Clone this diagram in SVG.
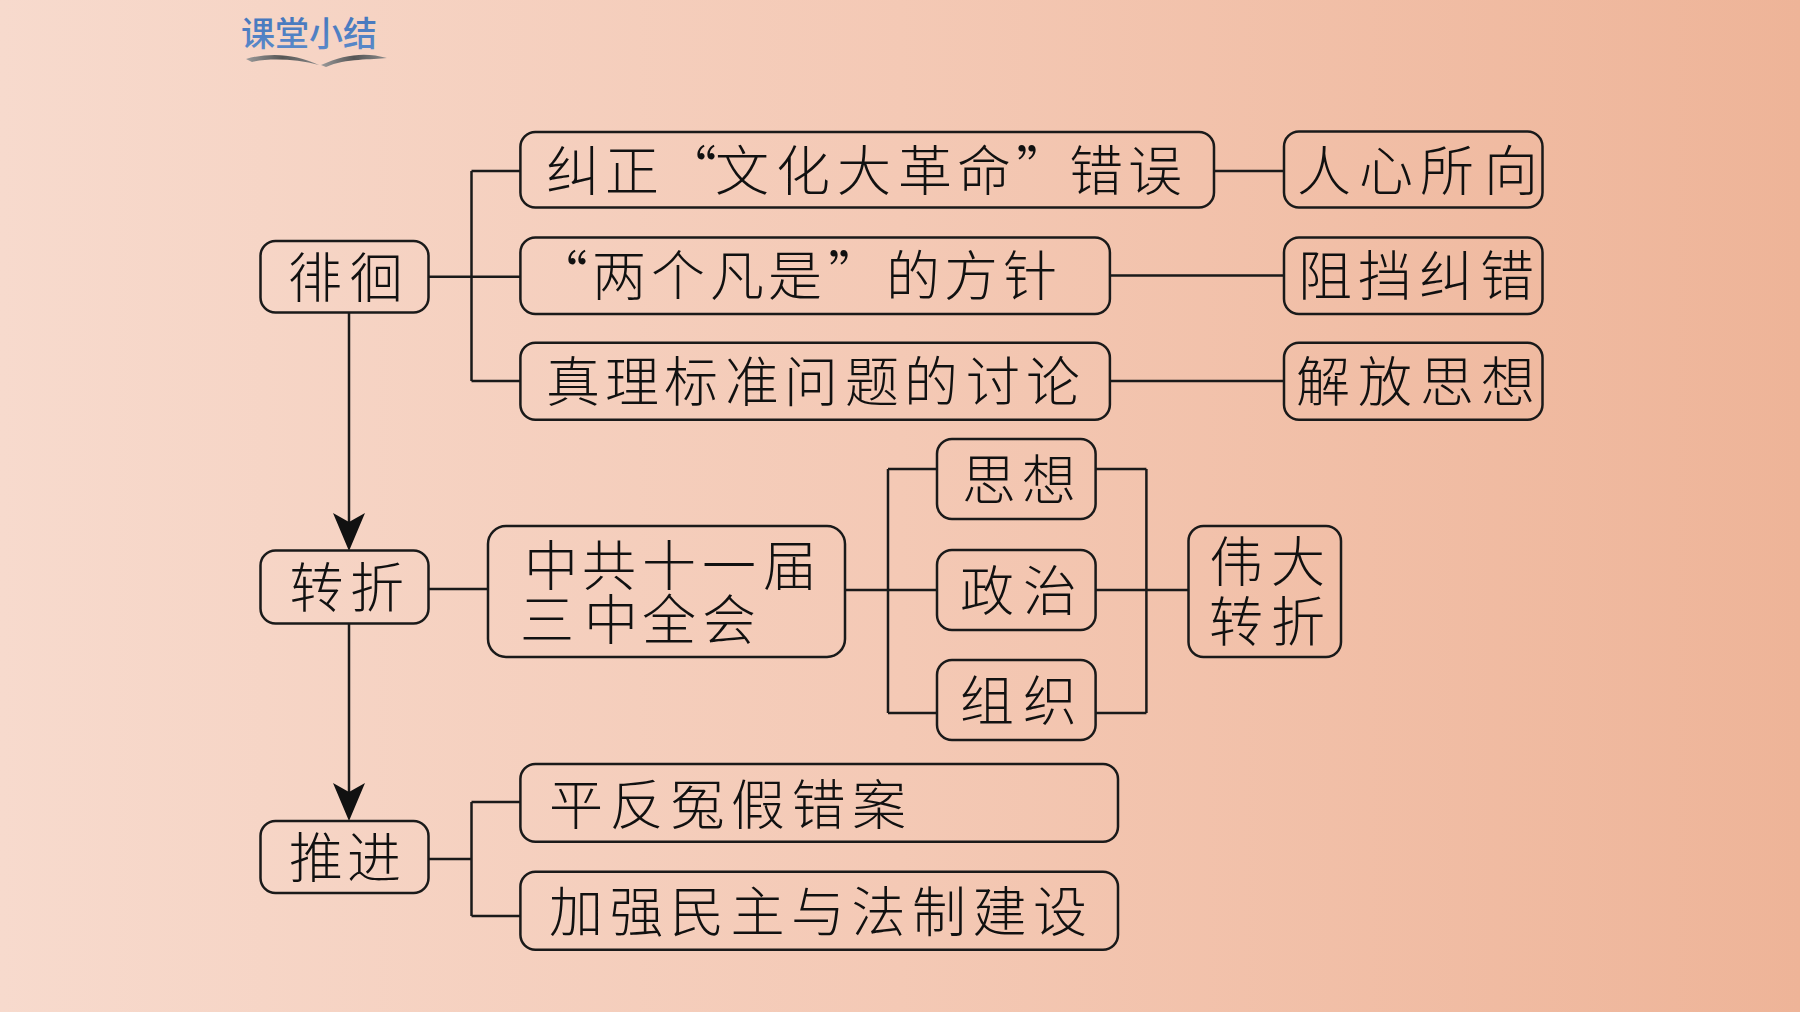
<svg xmlns="http://www.w3.org/2000/svg" width="1800" height="1012" viewBox="0 0 1800 1012">
<defs>
<linearGradient id="bg" x1="0" y1="0" x2="1" y2="0">
<stop offset="0" stop-color="#F7DACD"/>
<stop offset="0.5" stop-color="#F4C9B5"/>
<stop offset="1" stop-color="#EEB498"/>
</linearGradient>
<linearGradient id="tg" x1="0" y1="0" x2="0" y2="1">
<stop offset="0" stop-color="#3F72BA"/>
<stop offset="1" stop-color="#5E8CCB"/>
</linearGradient>
<linearGradient id="og" x1="0" y1="0" x2="1" y2="0">
<stop offset="0" stop-color="#9a9a9a"/>
<stop offset="0.5" stop-color="#555"/>
<stop offset="1" stop-color="#8a8a8a"/>
</linearGradient>
<marker id="arr" markerUnits="userSpaceOnUse" markerWidth="40" markerHeight="34" viewBox="0 0 40 34" refX="27" refY="16" orient="auto">
<path d="M0,0 L38,16 L0,32 L9,16 Z" fill="#111"/>
</marker>
</defs>
<style>
.box{fill:none;stroke:#1a1a1a;stroke-width:2.5}
.t{font-family:"Noto Sans CJK SC","Noto Sans CJK TC",sans-serif;font-size:54px;fill:#111;font-weight:300}
.ln{fill:none;stroke:#1a1a1a;stroke-width:2.5}
.title{font-family:"Noto Sans CJK SC",sans-serif;font-size:34px;font-weight:500;fill:url(#tg)}
</style>
<rect x="0" y="0" width="1800" height="1012" fill="url(#bg)"/>

<g id="title">
<text class="title" x="241" y="46">课堂小结</text>
<path d="M246,59 C270,52 296,54 319,65 C296,59 270,58 252,62 Z" fill="url(#og)"/>
<path d="M321,65 C345,54 366,52 387,58 C372,60 346,58 326,67 Z" fill="url(#og)"/>
</g>

<g id="connectors">
<path class="ln" d="M428.6,276.7 H471.5 M471.5,171 V381 M471.5,171 H520.4 M471.5,276.7 H520.4 M471.5,381 H520.4"/>
<path class="ln" d="M1214,171 H1284 M1110,275.5 H1284 M1110,381 H1284"/>
<path class="ln" d="M349,312.7 V540" marker-end="url(#arr)"/>
<path class="ln" d="M349,623.5 V810" marker-end="url(#arr)"/>
<path class="ln" d="M428.6,589 H488"/>
<path class="ln" d="M845,590 H888 M888,469 V713 M888,469 H937 M888,590 H937 M888,713 H937"/>
<path class="ln" d="M1095.6,469 H1146.4 M1095.6,590 H1146.4 M1095.6,713 H1146.4 M1146.4,469 V713 M1146.4,590 H1188.5"/>
<path class="ln" d="M429,859 H471.5 M471.5,802 V916 M471.5,802 H520.4 M471.5,916 H520.4"/>
</g>

<g id="n-paihuai">
<rect class="box" x="260.5" y="241" width="168" height="71.5" rx="15"/>
<text class="t" x="288 349" y="297.5">徘徊</text>
</g>
<g id="n-zhuanzhe">
<rect class="box" x="260.5" y="550.5" width="168" height="73" rx="15"/>
<text class="t" x="289.5 350" y="608">转折</text>
</g>
<g id="n-tuijin">
<rect class="box" x="260.5" y="821" width="168" height="72" rx="15"/>
<text class="t" x="289 347" y="877.5">推进</text>
</g>
<g id="n-jiuzheng">
<rect class="box" x="520.4" y="132" width="693.6" height="75.5" rx="15"/>
<text class="t" x="546 605 663 715 776 837 898 957 1016 1069 1128" y="190.5">纠正“文化大革命”错误</text>
</g>
<g id="n-liangge">
<rect class="box" x="520.4" y="237.5" width="589.5" height="76.5" rx="15"/>
<text class="t" x="534 592 651 710 768 828 886 944 1003" y="296">“两个凡是”的方针</text>
</g>
<g id="n-zhenli">
<rect class="box" x="520.4" y="342.7" width="589.5" height="77" rx="15"/>
<text class="t" x="546 605 664 725 784 845 904 966 1026" y="401.5">真理标准问题的讨论</text>
</g>
<g id="n-renxin">
<rect class="box" x="1284" y="131.5" width="258.5" height="76" rx="15"/>
<text class="t" x="1297 1359 1420 1484" y="190.5">人心所向</text>
</g>
<g id="n-zudang">
<rect class="box" x="1284" y="237.5" width="258.5" height="76.5" rx="15"/>
<text class="t" x="1298 1358 1419 1480" y="296">阻挡纠错</text>
</g>
<g id="n-jiefang">
<rect class="box" x="1284" y="342.7" width="258.5" height="77" rx="15"/>
<text class="t" x="1296 1358 1420 1481" y="401.5">解放思想</text>
</g>
<g id="n-sanzhong">
<rect class="box" x="488" y="526" width="357" height="131" rx="18"/>
<text class="t"><tspan x="524 582 642 702 763" y="585.5">中共十一届</tspan><tspan x="520 584 642 702" y="640">三中全会</tspan></text>
</g>
<g id="n-sixiang">
<rect class="box" x="937" y="439" width="158.6" height="80" rx="15"/>
<text class="t" x="962 1022" y="499.5">思想</text>
</g>
<g id="n-zhengzhi">
<rect class="box" x="937" y="550" width="158.6" height="80" rx="15"/>
<text class="t" x="960 1023" y="610.5">政治</text>
</g>
<g id="n-zuzhi">
<rect class="box" x="937" y="660" width="158.6" height="80" rx="15"/>
<text class="t" x="960 1023" y="720.5">组织</text>
</g>
<g id="n-weida">
<rect class="box" x="1188.5" y="526" width="152.5" height="131" rx="15"/>
<text class="t"><tspan x="1209 1271" y="582">伟大</tspan><tspan x="1209 1271" y="642">转折</tspan></text>
</g>
<g id="n-pingfan">
<rect class="box" x="520.4" y="764" width="597.6" height="77.7" rx="15"/>
<text class="t" x="549 609.6 670.2 730.8 791.4 852" y="824.5">平反冤假错案</text>
</g>
<g id="n-jiaqiang">
<rect class="box" x="520.4" y="871.7" width="597.6" height="78" rx="15"/>
<text class="t" x="549 609.5 670 730.5 791 851.5 912 972.5 1033" y="932">加强民主与法制建设</text>
</g>
</svg>
